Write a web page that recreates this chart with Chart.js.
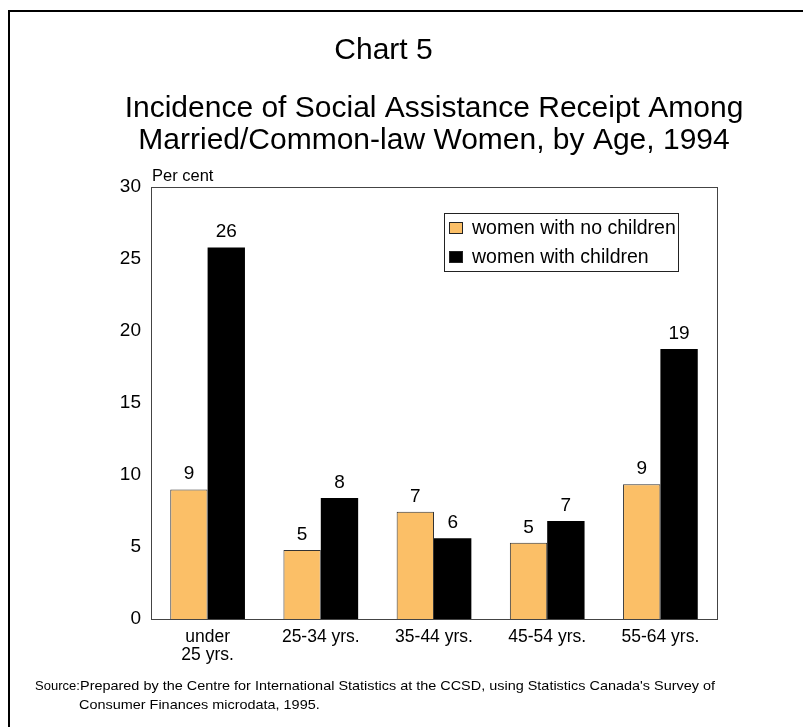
<!DOCTYPE html>
<html>
<head>
<meta charset="utf-8">
<script src="https://cdn.jsdelivr.net/npm/chart.js@4/dist/chart.umd.min.js"></script>
<style>
  html, body { margin: 0; padding: 0; background: #fff; }
  #c { display: block; }
</style>
</head>
<body>
<canvas id="c" width="803" height="727"></canvas>
<script>
// ---- data ----
const categories = [["under", "25 yrs."], "25-34 yrs.", "35-44 yrs.", "45-54 yrs.", "55-64 yrs."];
const seriesNames = ["women with no children", "women with children"];
const noChildren = [9.0, 4.8, 7.45, 5.3, 9.35];
const withChildren = [25.8, 8.4, 5.6, 6.8, 18.75];
const yTicks = { min: 0, max: 30, step: 5 };
const chartNumber = "Chart 5";
const titleLines = ["Incidence of Social Assistance Receipt Among", "Married/Common-law Women, by Age, 1994"];
const yAxisLabel = "Per cent";
const sourceLabel = "Source:";
const sourceLines = ["Prepared by the Centre for International Statistics at the CCSD, using Statistics Canada's Survey of",
                     "Consumer Finances microdata, 1995."];

const FONT = "'Liberation Sans', Arial, Helvetica, sans-serif";
const ORANGE = "#FBBF67";

const decorPlugin = {
  id: "decor",
  beforeDatasetsDraw(chart) {
    const ctx = chart.ctx, a = chart.chartArea;
    ctx.save();
    // page border (top & left)
    ctx.strokeStyle = "#000";
    ctx.lineWidth = 2;
    ctx.beginPath();
    ctx.moveTo(9, 727);
    ctx.lineTo(9, 11);
    ctx.lineTo(803, 11);
    ctx.stroke();
    // plot frame
    ctx.strokeStyle = "#444";
    ctx.lineWidth = 1;
    ctx.strokeRect(Math.round(a.left) + 0.5, Math.round(a.top) + 0.5,
                   Math.round(a.right - a.left), Math.round(a.bottom - a.top));
    ctx.restore();
  },
  afterDatasetsDraw(chart) {
    const ctx = chart.ctx, a = chart.chartArea;
    ctx.save();
    ctx.fillStyle = "#000";
    // value labels
    ctx.font = "19px " + FONT;
    ctx.textAlign = "center";
    ctx.textBaseline = "alphabetic";
    chart.data.datasets.forEach((ds, di) => {
      const meta = chart.getDatasetMeta(di);
      meta.data.forEach((bar, i) => {
        ctx.fillText(String(Math.round(ds.data[i])), bar.x, bar.y - 10);
      });
    });
    // titles
    ctx.font = "30px " + FONT;
    ctx.textAlign = "center";
    ctx.fillText(chartNumber, 383.5, 59);
    const cx = (a.left + a.right) / 2;
    ctx.fillText(titleLines[0], cx, 117);
    ctx.fillText(titleLines[1], cx, 149);
    // y axis label
    ctx.font = "16.5px " + FONT;
    ctx.textAlign = "left";
    ctx.fillText(yAxisLabel, a.left + 1, a.top - 6);
    // legend
    const lx = 444, ly = 213, lw = 234, lh = 58;
    ctx.fillStyle = "#fff";
    ctx.fillRect(lx, ly, lw, lh);
    ctx.strokeStyle = "#222";
    ctx.lineWidth = 1;
    ctx.strokeRect(lx + 0.5, ly + 0.5, lw, lh);
    ctx.font = "19.5px " + FONT;
    ctx.textBaseline = "middle";
    const rows = [228, 257];
    chart.data.datasets.forEach((ds, di) => {
      const ry = rows[di];
      ctx.fillStyle = ds.backgroundColor;
      ctx.fillRect(449, ry - 6, 14, 12);
      ctx.strokeStyle = "#222";
      ctx.strokeRect(449.5, ry - 5.5, 13, 11);
      ctx.fillStyle = "#000";
      ctx.fillText(ds.label, 472, ry + 1);
    });
    // source
    ctx.textBaseline = "alphabetic";
    ctx.font = "13px " + FONT;
    ctx.fillText(sourceLabel, 35, 690);
    const targetW = 635;
    const w = ctx.measureText(sourceLines[0]).width;
    const sx = targetW / w;
    ctx.save();
    ctx.translate(80, 690);
    ctx.scale(sx, 1);
    ctx.fillText(sourceLines[0], 0, 0);
    ctx.restore();
    ctx.save();
    ctx.translate(79, 709);
    ctx.scale(sx, 1);
    ctx.fillText(sourceLines[1], 0, 0);
    ctx.restore();
    ctx.restore();
  }
};

new Chart(document.getElementById("c"), {
  type: "bar",
  data: {
    labels: categories,
    datasets: [
      { label: seriesNames[0], data: noChildren, backgroundColor: ORANGE, borderColor: "#333", borderWidth: 1 },
      { label: seriesNames[1], data: withChildren, backgroundColor: "#000", borderColor: "#000", borderWidth: 0 }
    ]
  },
  options: {
    responsive: false,
    animation: false,
    devicePixelRatio: 1,
    layout: { padding: { left: 0, right: 86, top: 187, bottom: 0 } },
    datasets: { bar: { categoryPercentage: 0.66, barPercentage: 1.0 } },
    plugins: { legend: { display: false }, tooltip: { enabled: false }, title: { display: false } },
    scales: {
      x: {
        grid: { display: false, drawTicks: false },
        border: { display: false },
        ticks: { color: "#000", font: { family: FONT, size: 17.5, lineHeight: 1.05 }, padding: 9, maxRotation: 0, autoSkip: false },
        afterFit(s) { s.height = 108; }
      },
      y: {
        min: yTicks.min, max: yTicks.max,
        grid: { display: false, drawTicks: false },
        border: { display: false },
        ticks: { stepSize: yTicks.step, color: "#000", font: { family: FONT, size: 19 }, padding: 10 },
        afterFit(s) { s.width = 151; }
      }
    }
  },
  plugins: [decorPlugin]
});
</script>
</body>
</html>
